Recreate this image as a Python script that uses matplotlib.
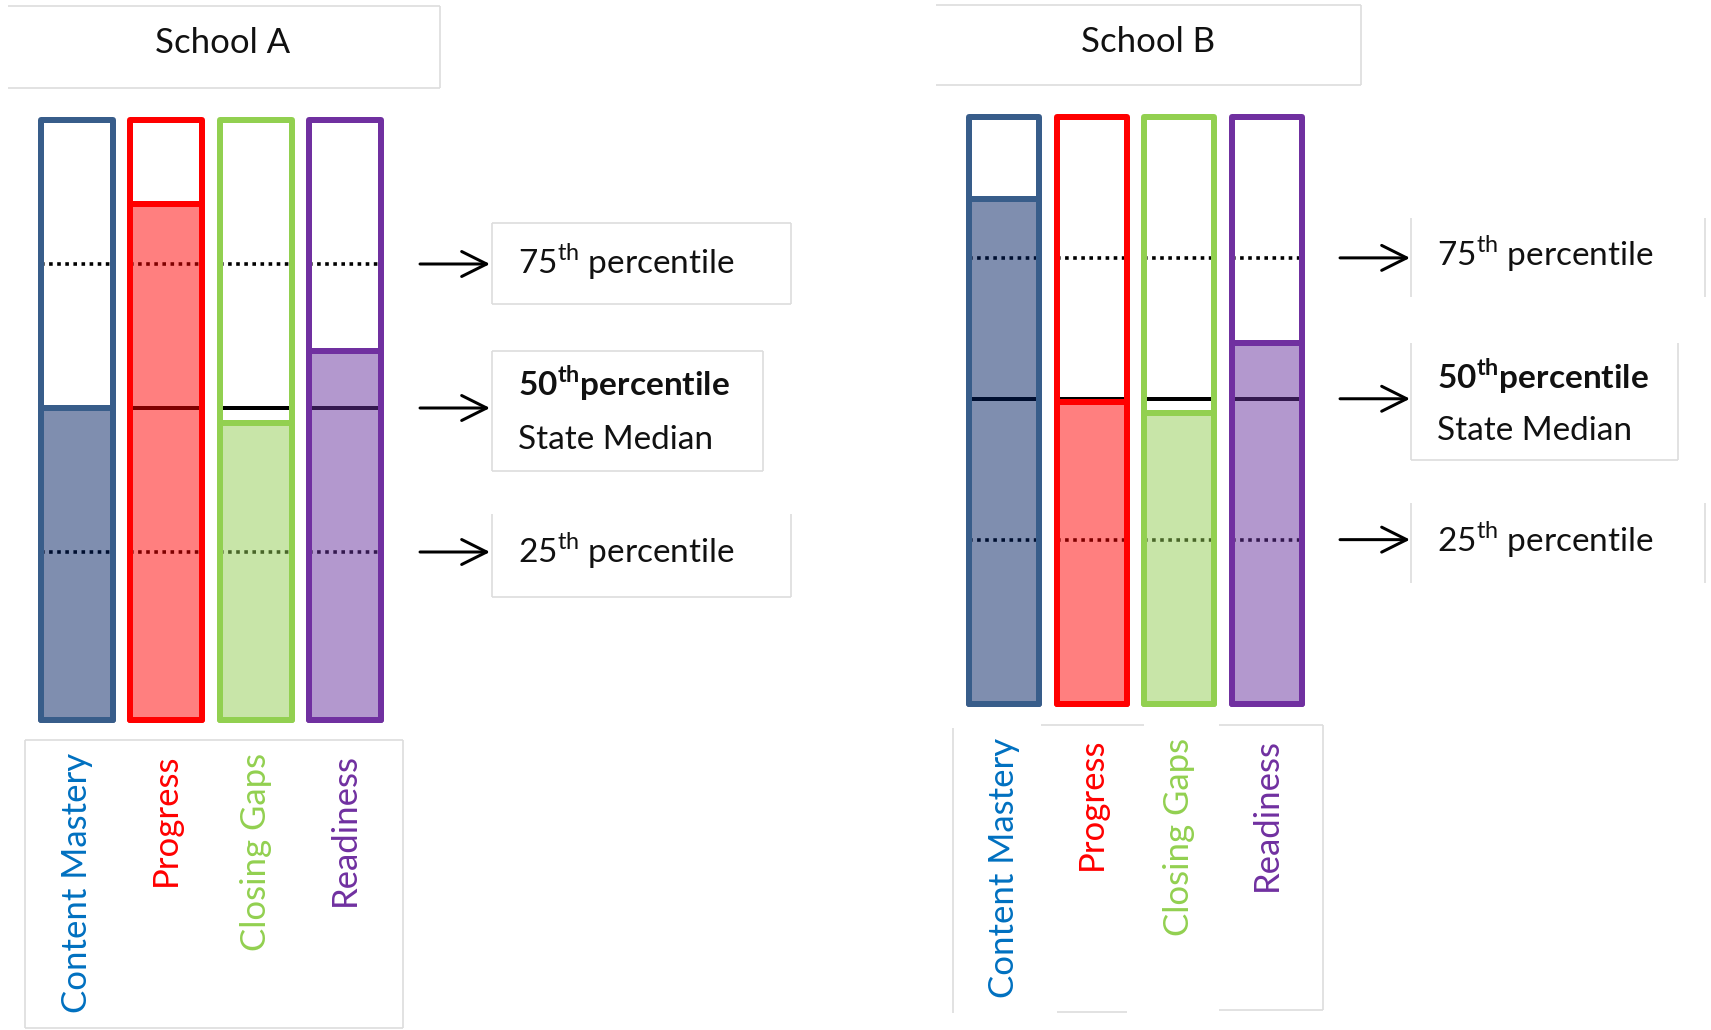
import matplotlib.pyplot as plt
from matplotlib.patches import Rectangle
from matplotlib.colors import to_rgb

plt.rcParams['font.family'] = ['Lato', 'DejaVu Sans']
plt.rcParams['mathtext.fontset'] = 'custom'
plt.rcParams['mathtext.rm'] = 'Lato'
plt.rcParams['mathtext.bf'] = 'Lato:bold'

# measures and the school results on a 0-100 scale
measures = ['Content Mastery', 'Progress', 'Closing Gaps', 'Readiness']
schools = ['School A', 'School B']
school_a = [52, 86, 49.5, 61.5]
school_b = [86, 51.5, 49.5, 61.5]
# state cut points (25th, 50th, 75th percentile) on the same scale
pct_rank = ['25', '50', '75']
pct_cut = [28, 52, 76]

edge_colors = ['#385D8A', '#FF0000', '#92D050', '#7030A0']
fill_colors = ['#7F8FB0', '#FF8080', '#C9E6A9', '#B499CF']
label_colors = ['#0070C0', '#FF0000', '#92D050', '#7030A0']
grey = '#DCDCDC'

W, H = 1711, 1030
PT = 0.72  # points per pixel at 100 dpi

layouts = [
    dict(left=38, step=89.3, width=78, top=120, bottom=720,
         arrow=(420, 490), text_x=518, label_top=753, title_c=(223, 43),
         title_box=(8, 440, 6, 88),
         boxes=[((492, 791, 514, 597), 'lrb'), ((492, 763, 351, 471), 'tlrb'),
                ((492, 791, 223, 304), 'tlrb')],
         text_dy=[11, -12, 10]),
    dict(left=966, step=87.7, width=76, top=117, bottom=704,
         arrow=(1340, 1410), text_x=1437, label_top=738, title_c=(1148, 42),
         title_box=(936, 1361, 5, 85),
         boxes=[((1411, 1705, 503, 583), 'lr'), ((1411, 1678, 343, 460), 'lrb'),
                ((1411, 1705, 218, 297), 'lr')],
         text_dy=[12, -10, 8]),
]


def half_alpha(c):
    # colour that shows as c over white when drawn at 50% opacity
    rgb = [min(max(2 * v - 1, 0), 1) for v in to_rgb(c)]
    return (*rgb, 0.5)


def box(ax, x0, x1, y0, y1, sides):
    segs = {'t': ([x0, x1], [y0, y0]), 'b': ([x0, x1], [y1, y1]),
            'l': ([x0, x0], [y0, y1]), 'r': ([x1, x1], [y0, y1])}
    for s in sides:
        ax.plot(*segs[s], color=grey, lw=1.6 * PT, solid_capstyle='butt')


fig = plt.figure(figsize=(W / 100, H / 100), dpi=100)
page = fig.add_axes([0, 0, 1, 1])
page.set_xlim(0, W)
page.set_ylim(H, 0)
page.axis('off')

for name, vals, lay in zip(schools, [school_a, school_b], layouts):
    ax = fig.add_axes([0, 0, 1, 1], zorder=2)
    ax.patch.set_alpha(0)
    ax.axis('off')
    ppu = (lay['bottom'] - lay['top']) / 100
    ax.set_xlim(0, W)
    ax.set_ylim((lay['bottom'] - H) / ppu, lay['bottom'] / ppu)

    # title
    x0, x1, y0, y1 = lay['title_box']
    box(page, x0, x1, y0, y1, 'trb')
    page.text(*lay['title_c'], name, fontsize=25, ha='center', va='center',
              color='#111111')

    lw = 6
    for i, v in enumerate(vals):
        xl = lay['left'] + i * lay['step'] + lw / 2
        w = lay['width'] - lw
        ax.add_patch(Rectangle((xl, 0), w, 100, facecolor='white',
                               edgecolor='none', zorder=1))
        for rank, cut in zip(pct_rank, pct_cut):
            if rank == '50':
                ax.plot([xl, xl + w], [cut, cut], color='black', lw=4 * PT,
                        solid_capstyle='butt', zorder=2)
            else:
                ax.plot([xl, xl + w], [cut, cut], color='black', lw=3.6 * PT,
                        ls=(0, (1, 1.25)), dash_capstyle='butt', zorder=2)
        ax.add_patch(Rectangle((xl, 0), w, v, facecolor=half_alpha(fill_colors[i]),
                               edgecolor=edge_colors[i], lw=lw * PT,
                               joinstyle='round', zorder=3))
        ax.add_patch(Rectangle((xl, 0), w, 100, facecolor='none',
                               edgecolor=edge_colors[i], lw=lw * PT,
                               joinstyle='round', zorder=4))
        page.text(lay['left'] + i * lay['step'] + lay['width'] / 2, lay['label_top'],
                  measures[i], rotation=90, ha='center', va='top', fontsize=25,
                  color=label_colors[i])

    # arrows and percentile call-outs
    ax0, ax1 = lay['arrow']
    for (bx, sides), rank, cut, dy in zip(lay['boxes'], pct_rank, pct_cut, lay['text_dy']):
        box(page, *bx, sides)
        ax.annotate('', xy=(ax1, cut), xytext=(ax0, cut),
                    arrowprops=dict(arrowstyle='->,head_length=0.9,head_width=0.45',
                                    lw=3 * PT, color='black', mutation_scale=20,
                                    shrinkA=0, shrinkB=0))
        if rank == '50':
            ax.annotate(rank + r'$^{\mathbf{th}}$percentile', xy=(lay['text_x'], cut),
                        xytext=(0, -dy * PT), textcoords='offset points',
                        va='baseline', fontsize=24, fontweight='bold', color='#111111')
            ax.annotate('State Median', xy=(lay['text_x'], cut),
                        xytext=(0, -41 * PT), textcoords='offset points',
                        va='baseline', fontsize=24, color='#111111')
        else:
            ax.annotate(rank + r'$^{\mathrm{th}}$ percentile', xy=(lay['text_x'], cut),
                        xytext=(0, -dy * PT), textcoords='offset points',
                        va='baseline', fontsize=24, color='#111111')

# label boxes under the bars
box(page, 25, 403, 740, 1028, 'tlrb')
box(page, 953, 953, 728, 1013, 'l')
box(page, 1041, 1144, 725, 725, 't')
box(page, 1219, 1323, 725, 1010, 'trb')
box(page, 1057, 1127, 1012, 1012, 't')

fig.savefig('out.png', dpi=100)
